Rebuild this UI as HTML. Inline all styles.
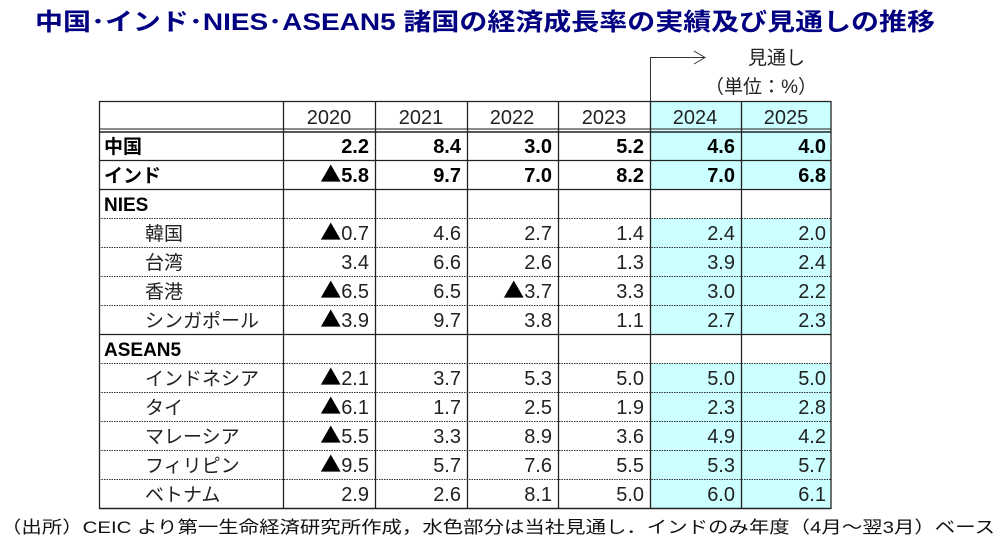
<!DOCTYPE html>
<html><head><meta charset="utf-8"><style>
html,body{margin:0;padding:0;background:#fff;width:998px;height:540px;overflow:hidden}
svg{display:block}
text{font-family:"Liberation Sans","Noto Sans CJK JP",sans-serif;}
.t{font-family:"Noto Sans CJK JP",sans-serif;font-size:21px}
</style></head><body>
<svg width="998" height="540" xmlns="http://www.w3.org/2000/svg">
<text x="35" y="30" font-size="24" font-weight="bold" fill="#000080" textLength="900" lengthAdjust="spacingAndGlyphs">中国･インド･NIES･ASEAN5 諸国の経済成長率の実績及び見通しの推移</text>
<rect x="650" y="101" width="181" height="88" fill="#CCFFFF"/>
<rect x="650" y="218" width="181" height="116" fill="#CCFFFF"/>
<rect x="650" y="363" width="181" height="145" fill="#CCFFFF"/>
<path d="M650.5 101 V57.5 H705" stroke="#333" fill="none" stroke-width="1"/>
<path d="M694 51 L705 57.5 L694 64" stroke="#333" fill="none" stroke-width="1"/>
<text x="748" y="64" font-size="19" fill="#222">見通し</text>
<text x="705" y="93" font-size="19" fill="#222" textLength="112">（単位：%）</text>
<g stroke="#222" stroke-width="1.2">
<line x1="99" y1="101.5" x2="831" y2="101.5"/>
<line x1="99" y1="129" x2="831" y2="129" stroke="#666" stroke-width="1.5"/>
<line x1="99" y1="132" x2="831" y2="132" stroke-width="1.5"/>
<line x1="99" y1="160.5" x2="831" y2="160.5"/>
<line x1="99" y1="189.5" x2="831" y2="189.5"/>
<line x1="99" y1="334.5" x2="831" y2="334.5"/>
<line x1="99" y1="508.5" x2="831" y2="508.5" stroke-width="1.5"/>
</g>
<g stroke="#333" stroke-width="1" stroke-dasharray="1.5,1">
<line x1="99" y1="218.5" x2="831" y2="218.5"/>
<line x1="99" y1="247.5" x2="831" y2="247.5"/>
<line x1="99" y1="276.5" x2="831" y2="276.5"/>
<line x1="99" y1="305.5" x2="831" y2="305.5"/>
<line x1="99" y1="363.5" x2="831" y2="363.5"/>
<line x1="99" y1="392.5" x2="831" y2="392.5"/>
<line x1="99" y1="421.5" x2="831" y2="421.5"/>
<line x1="99" y1="450.5" x2="831" y2="450.5"/>
<line x1="99" y1="479.5" x2="831" y2="479.5"/>
</g>
<g stroke="#222" stroke-width="1.3">
<line x1="99.5" y1="101" x2="99.5" y2="509"/>
<line x1="283.5" y1="101" x2="283.5" y2="509"/>
<line x1="375.5" y1="101" x2="375.5" y2="509"/>
<line x1="467.5" y1="101" x2="467.5" y2="509"/>
<line x1="558.5" y1="101" x2="558.5" y2="509"/>
<line x1="650.5" y1="101" x2="650.5" y2="509"/>
<line x1="741.5" y1="101" x2="741.5" y2="509"/>
<line x1="831" y1="101" x2="831" y2="509"/>
</g>
<g font-size="20" fill="#222" text-anchor="middle">
<text x="329" y="124">2020</text><text x="421" y="124">2021</text><text x="512" y="124">2022</text>
<text x="604" y="124">2023</text><text x="695" y="124">2024</text><text x="786" y="124">2025</text>
</g>
<g font-size="19" fill="#000" font-weight="bold">
<text x="104" y="153">中国</text>
<text x="104" y="182">インド</text>
<text x="104" y="211">NIES</text>
<text x="104" y="356">ASEAN5</text>
</g>
<g font-size="19" fill="#222">
<text x="145" y="240">韓国</text>
<text x="145" y="269">台湾</text>
<text x="145" y="298">香港</text>
<text x="145" y="327">シンガポール</text>
<text x="145" y="385">インドネシア</text>
<text x="145" y="414">タイ</text>
<text x="145" y="443">マレーシア</text>
<text x="145" y="472">フィリピン</text>
<text x="145" y="501">ベトナム</text>
</g>
<g font-size="20" font-weight="bold" fill="#000" text-anchor="end">
<text x="369" y="153">2.2</text><text x="461" y="153">8.4</text><text x="552" y="153">3.0</text><text x="644" y="153">5.2</text><text x="735" y="153">4.6</text><text x="826" y="153">4.0</text>
<text x="369" y="182"><tspan class="t">▲</tspan>5.8</text><text x="461" y="182">9.7</text><text x="552" y="182">7.0</text><text x="644" y="182">8.2</text><text x="735" y="182">7.0</text><text x="826" y="182">6.8</text>
</g>
<g font-size="20" fill="#222" text-anchor="end">
<text x="369" y="240"><tspan class="t" fill="#000">▲</tspan>0.7</text><text x="461" y="240">4.6</text><text x="552" y="240">2.7</text><text x="644" y="240">1.4</text><text x="735" y="240">2.4</text><text x="826" y="240">2.0</text>
<text x="369" y="269">3.4</text><text x="461" y="269">6.6</text><text x="552" y="269">2.6</text><text x="644" y="269">1.3</text><text x="735" y="269">3.9</text><text x="826" y="269">2.4</text>
<text x="369" y="298"><tspan class="t" fill="#000">▲</tspan>6.5</text><text x="461" y="298">6.5</text><text x="552" y="298"><tspan class="t" fill="#000">▲</tspan>3.7</text><text x="644" y="298">3.3</text><text x="735" y="298">3.0</text><text x="826" y="298">2.2</text>
<text x="369" y="327"><tspan class="t" fill="#000">▲</tspan>3.9</text><text x="461" y="327">9.7</text><text x="552" y="327">3.8</text><text x="644" y="327">1.1</text><text x="735" y="327">2.7</text><text x="826" y="327">2.3</text>
<text x="369" y="385"><tspan class="t" fill="#000">▲</tspan>2.1</text><text x="461" y="385">3.7</text><text x="552" y="385">5.3</text><text x="644" y="385">5.0</text><text x="735" y="385">5.0</text><text x="826" y="385">5.0</text>
<text x="369" y="414"><tspan class="t" fill="#000">▲</tspan>6.1</text><text x="461" y="414">1.7</text><text x="552" y="414">2.5</text><text x="644" y="414">1.9</text><text x="735" y="414">2.3</text><text x="826" y="414">2.8</text>
<text x="369" y="443"><tspan class="t" fill="#000">▲</tspan>5.5</text><text x="461" y="443">3.3</text><text x="552" y="443">8.9</text><text x="644" y="443">3.6</text><text x="735" y="443">4.9</text><text x="826" y="443">4.2</text>
<text x="369" y="472"><tspan class="t" fill="#000">▲</tspan>9.5</text><text x="461" y="472">5.7</text><text x="552" y="472">7.6</text><text x="644" y="472">5.5</text><text x="735" y="472">5.3</text><text x="826" y="472">5.7</text>
<text x="369" y="501">2.9</text><text x="461" y="501">2.6</text><text x="552" y="501">8.1</text><text x="644" y="501">5.0</text><text x="735" y="501">6.0</text><text x="826" y="501">6.1</text>
</g>
<text x="1" y="533" font-size="17" fill="#111" textLength="994" lengthAdjust="spacingAndGlyphs">（出所）CEIC より第一生命経済研究所作成，水色部分は当社見通し．インドのみ年度（4月～翌3月）ベース</text>
</svg>
</body></html>
